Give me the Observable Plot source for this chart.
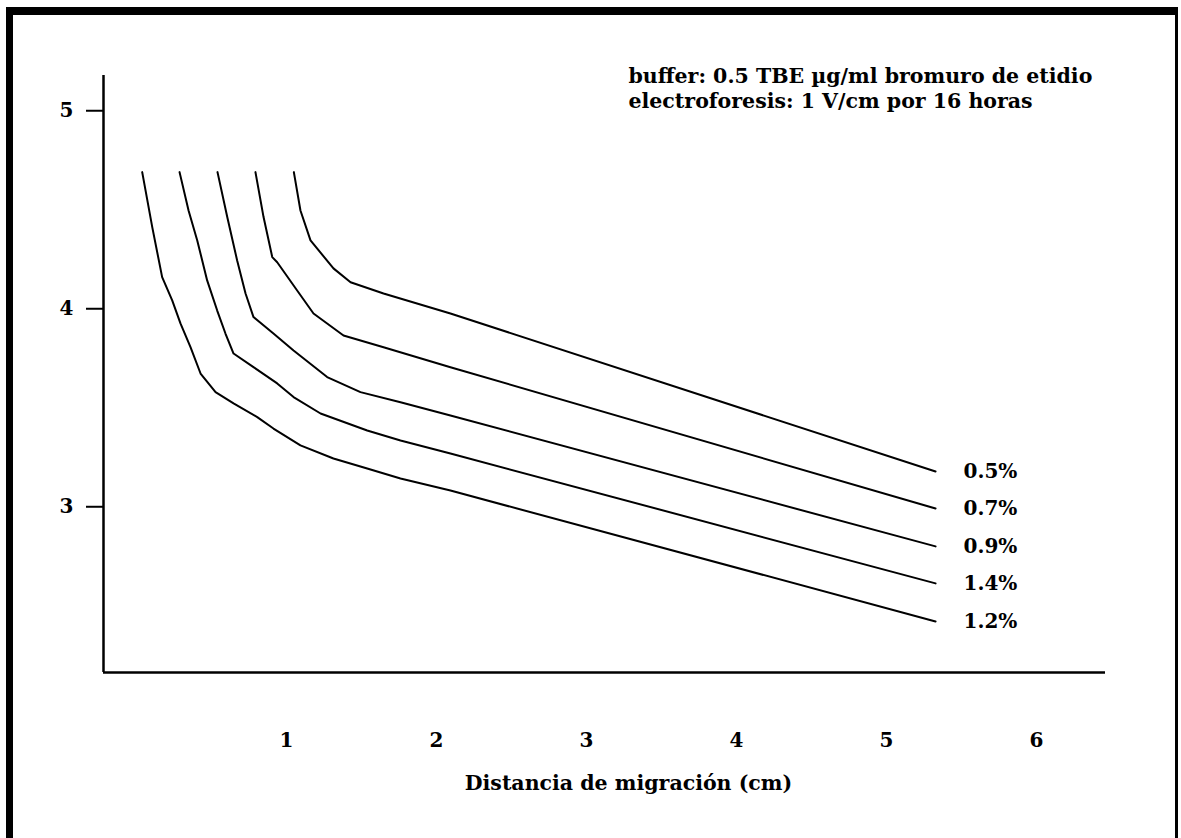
<!DOCTYPE html>
<html>
<head>
<meta charset="utf-8">
<script src="https://cdn.jsdelivr.net/npm/d3@7"></script>
<script src="https://cdn.jsdelivr.net/npm/@observablehq/plot@0.6"></script>
<style>
  html, body { margin: 0; padding: 0; background: #fff; overflow: hidden; }
  #wrap { position: relative; width: 1181px; height: 838px; }
  #border { position: absolute; left: 6px; top: 7px; right: 3px; height: 900px;
            border-top: 8px solid #000; border-left: 7px solid #000; border-right: 3px solid #000; }
  #chart { position: absolute; left: 0; top: 0; }
</style>
</head>
<body>
<div id="wrap"><div id="border"></div><div id="chart"></div></div>
<script>
// Series (migration distance in cm, log10 size)
const s05x = [1.049, 1.093, 1.160, 1.313, 1.427, 1.647, 2.093, 5.327];
const s05y = [4.690, 4.496, 4.345, 4.204, 4.134, 4.077, 3.976, 3.178];

const s07x = [0.793, 0.847, 0.905, 0.938, 1.071, 1.180, 1.380, 1.647, 2.093, 5.327];
const s07y = [4.690, 4.463, 4.261, 4.235, 4.092, 3.976, 3.865, 3.806, 3.705, 2.991];

const s09x = [0.540, 0.605, 0.671, 0.727, 0.780, 0.913, 1.047, 1.271, 1.493, 1.760, 2.093, 5.327];
const s09y = [4.690, 4.463, 4.244, 4.077, 3.958, 3.875, 3.789, 3.655, 3.579, 3.528, 3.461, 2.800];

const s14x = [0.287, 0.347, 0.405, 0.471, 0.538, 0.593, 0.647, 0.780, 0.938, 1.047, 1.227, 1.538, 1.760, 2.093, 5.327];
const s14y = [4.690, 4.496, 4.345, 4.143, 3.991, 3.875, 3.774, 3.705, 3.623, 3.554, 3.471, 3.385, 3.335, 3.269, 2.613];

const s12x = [0.038, 0.105, 0.171, 0.238, 0.293, 0.360, 0.427, 0.527, 0.647, 0.805, 0.913, 1.093, 1.313, 1.538, 1.760, 2.093, 5.327];
const s12y = [4.690, 4.412, 4.160, 4.042, 3.926, 3.806, 3.673, 3.579, 3.522, 3.453, 3.395, 3.310, 3.244, 3.193, 3.143, 3.082, 2.421];

const seriesNames = ["0.5%", "0.7%", "0.9%", "1.4%", "1.2%"];
const xTicks = [1, 2, 3, 4, 5, 6];
const yTicks = [3, 4, 5];
const xDomain = [-0.22, 6.46];
const yDomain = [2.163, 5.178];
const xTitle = "Distancia de migración (cm)";
const noteLines = ["buffer: 0.5 TBE µg/ml bromuro de etidio", "electroforesis: 1 V/cm por 16 horas"];

const xs = [s05x, s07x, s09x, s14x, s12x];
const ys = [s05y, s07y, s09y, s14y, s12y];
const data = [];
const ends = [];
seriesNames.forEach((name, i) => {
  xs[i].forEach((x, j) => data.push({series: name, x, y: ys[i][j]}));
  const n = xs[i].length - 1;
  ends.push({series: name, x: xs[i][n], y: ys[i][n]});
});

const font = "DejaVu Serif";
const chart = Plot.plot({
  width: 1181,
  height: 838,
  marginLeft: 103,
  marginRight: 76,
  marginTop: 75,
  marginBottom: 166,
  x: {domain: xDomain},
  y: {domain: yDomain},
  style: {fontFamily: font, fontWeight: "bold", fontSize: "20px", color: "#000", background: "transparent", overflow: "visible"},
  marks: [
    Plot.axisY({ticks: yTicks, tickSize: 17, tickPadding: 13, tickFormat: d => String(d), label: null, strokeWidth: 2, fontSize: 20, fontWeight: "bold"}),
    Plot.axisX({ticks: xTicks, tickSize: 0, tickPadding: 60, tickFormat: d => String(d), label: null, fontSize: 20, fontWeight: "bold"}),
    Plot.ruleX([xDomain[0]], {stroke: "#000", strokeWidth: 2.5}),
    Plot.ruleY([yDomain[0]], {stroke: "#000", strokeWidth: 2.5}),
    Plot.line(data, {x: "x", y: "y", z: "series", stroke: "#000", strokeWidth: 2, curve: "linear"}),
    Plot.text(ends, {x: "x", y: "y", text: "series", dx: 28, textAnchor: "start", fontSize: 20, fontWeight: "bold"}),
    Plot.text([noteLines.join("\n")], {frameAnchor: "top-left", dx: 525, dy: -10, textAnchor: "start", lineAnchor: "top", lineHeight: 1.22, fontSize: 20.5, fontWeight: "bold"}),
    Plot.text([xTitle], {frameAnchor: "bottom", dx: 24, dy: 117, fontSize: 20.5, fontWeight: "bold"})
  ]
});
document.getElementById("chart").appendChild(chart);
</script>
</body>
</html>
